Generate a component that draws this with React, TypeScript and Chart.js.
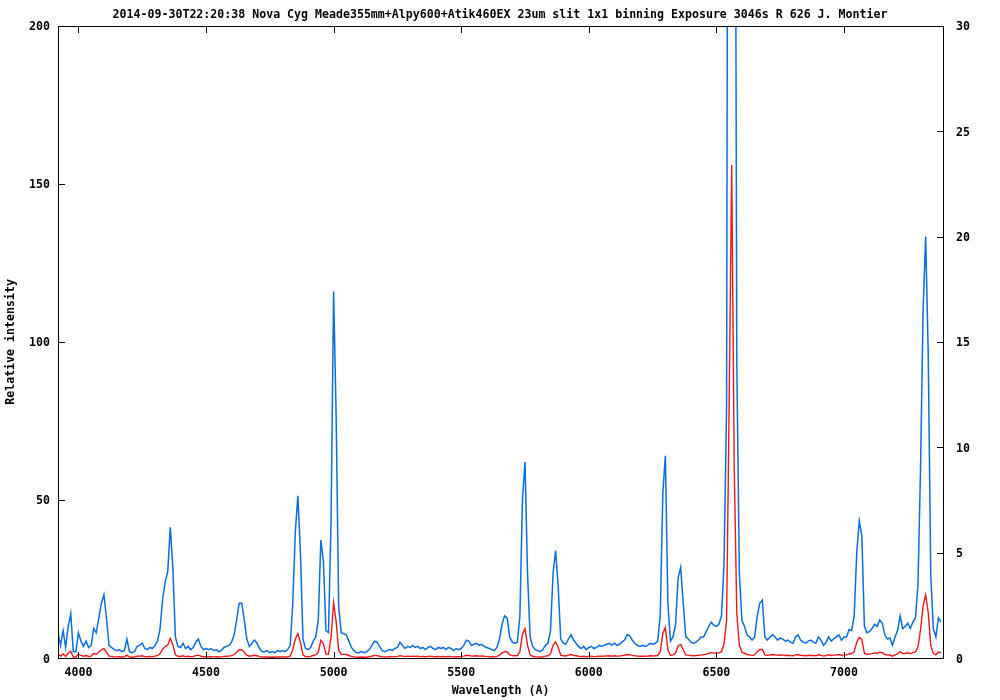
import React, { useEffect, useRef } from 'react';
import { Chart, registerables } from 'chart.js';

Chart.register(...registerables);

const TITLE =
  '2014-09-30T22:20:38 Nova Cyg Meade355mm+Alpy600+Atik460EX 23um slit 1x1 binning Exposure 3046s R 626 J. Montier';
const X_LABEL = 'Wavelength (A)';
const Y_LABEL = 'Relative intensity';

const X_TICKS = [4000, 4500, 5000, 5500, 6000, 6500, 7000];
const Y_TICKS = [0, 50, 100, 150, 200];
const Y2_TICKS = [0, 5, 10, 15, 20, 25, 30];

const X_MIN = 3920;
const X_MAX = 7388;
const Y_MAX = 200;
const Y2_MAX = 30;

// wavelength grid: first sample and spacing (Angstrom)
const WL_START = 3920;
const WL_STEP = 10;

// relative intensity, 3920–4410 A
const flux3920 = [
  1.2, 0.6, 1.3, 0.5, 1.5, 2.1, 0.3, 0.3, 1.2, 0.8,
  0.55, 0.8, 0.5, 0.6, 1.4, 1.2, 1.9, 2.6, 3.0, 1.9,
  0.6, 0.5, 0.4, 0.35, 0.4, 0.3, 0.35, 0.9, 0.3, 0.25,
  0.3, 0.55, 0.6, 0.7, 0.45, 0.4, 0.5, 0.45, 0.6, 0.8,
  1.4, 2.8, 3.6, 4.1, 6.2, 4.3, 1.0, 0.55, 0.5, 0.7,
];
// 4420–4910 A
const flux4420 = [
  0.45, 0.55, 0.4, 0.5, 0.75, 0.9, 0.55, 0.4, 0.45, 0.4,
  0.45, 0.35, 0.4, 0.3, 0.35, 0.5, 0.55, 0.6, 0.75, 1.1,
  1.8, 2.6, 2.6, 1.8, 0.9, 0.55, 0.7, 0.85, 0.7, 0.45,
  0.3, 0.3, 0.35, 0.25, 0.3, 0.25, 0.35, 0.3, 0.35, 0.3,
  0.4, 0.6, 2.6, 6.0, 7.7, 5.0, 0.9, 0.45, 0.4, 0.5,
];
// 4920–5410 A
const flux4920 = [
  0.8, 1.0, 1.8, 5.6, 4.6, 1.3, 1.2, 6.5, 17.4, 11.5,
  2.4, 1.2, 1.15, 1.1, 0.8, 0.5, 0.35, 0.25, 0.25, 0.3,
  0.25, 0.3, 0.4, 0.6, 0.8, 0.75, 0.55, 0.35, 0.3, 0.35,
  0.4, 0.35, 0.45, 0.5, 0.75, 0.6, 0.45, 0.55, 0.5, 0.6,
  0.5, 0.55, 0.45, 0.5, 0.4, 0.5, 0.55, 0.45, 0.4, 0.5,
];
// 5420–5910 A
const flux5420 = [
  0.45, 0.5, 0.4, 0.5, 0.45, 0.35, 0.45, 0.4, 0.45, 0.6,
  0.85, 0.8, 0.6, 0.65, 0.7, 0.6, 0.65, 0.55, 0.5, 0.45,
  0.4, 0.35, 0.5, 0.9, 1.6, 2.0, 1.9, 1.0, 0.75, 0.7,
  0.75, 2.0, 7.5, 9.3, 4.0, 1.0, 0.55, 0.4, 0.35, 0.3,
  0.4, 0.6, 0.7, 1.3, 4.0, 5.1, 3.4, 0.9, 0.7, 0.65,
];
// 5920–6410 A
const flux5920 = [
  0.9, 1.1, 0.85, 0.7, 0.55, 0.45, 0.55, 0.4, 0.5, 0.55,
  0.45, 0.5, 0.6, 0.55, 0.6, 0.65, 0.7, 0.6, 0.7, 0.6,
  0.65, 0.75, 0.85, 1.1, 1.05, 0.85, 0.7, 0.6, 0.55, 0.6,
  0.55, 0.6, 0.7, 0.65, 0.7, 0.8, 2.0, 7.8, 9.6, 2.6,
  0.8, 1.0, 1.6, 3.8, 4.3, 2.6, 1.0, 0.9, 0.75, 0.7,
];
// 6420–6910 A
const flux6420 = [
  0.75, 0.85, 1.0, 1.0, 1.25, 1.5, 1.7, 1.55, 1.5, 1.6,
  2.0, 4.5, 12, 80, 156, 60, 14, 4.0, 1.8, 1.5,
  1.1, 1.0, 0.85, 1.0, 2.0, 2.6, 2.75, 1.0, 0.85, 1.0,
  1.1, 1.0, 0.85, 0.95, 0.9, 0.8, 0.85, 0.75, 0.7, 1.0,
  1.1, 0.85, 0.75, 0.7, 0.8, 0.85, 0.75, 0.7, 1.0, 0.85,
];
// 6920–7380 A
const flux6920 = [
  0.6, 0.75, 1.0, 0.8, 0.9, 1.0, 1.1, 0.85, 1.0, 1.0,
  1.35, 1.3, 2.0, 5.0, 6.5, 5.8, 1.5, 1.2, 1.25, 1.4,
  1.6, 1.5, 1.8, 1.65, 1.1, 0.9, 0.95, 0.6, 1.0, 1.3,
  2.0, 1.4, 1.5, 1.65, 1.4, 1.7, 1.9, 3.5, 9.0, 16.5,
  20.0, 14.5, 4.0, 1.4, 1.0, 1.9, 1.7,
];

const BLUE = '#0a6ee0';
const RED = '#f01818';
const FONT_FAMILY = "'DejaVu Sans Mono', 'Liberation Mono', monospace";

const framePlugin = {
  id: 'gnuFrame',
  afterDatasetsDraw(chart: any) {
    const { ctx, chartArea: a, scales } = chart;
    const L = Math.round(a.left);
    const R = Math.round(a.right);
    const T = Math.round(a.top);
    const B = Math.round(a.bottom);
    const len = 6;
    ctx.save();
    ctx.fillStyle = '#000';
    ctx.fillRect(L, T, R - L + 1, 1);
    ctx.fillRect(L, B, R - L + 1, 1);
    ctx.fillRect(L, T, 1, B - T + 1);
    ctx.fillRect(R, T, 1, B - T + 1);
    scales.x.ticks.forEach((t: any) => {
      const px = Math.round(scales.x.getPixelForValue(t.value));
      ctx.fillRect(px, B - len, 1, len);
      ctx.fillRect(px, T + 1, 1, len);
    });
    scales.y.ticks.forEach((t: any) => {
      const py = Math.round(scales.y.getPixelForValue(t.value));
      ctx.fillRect(L + 1, py, len, 1);
    });
    scales.y2.ticks.forEach((t: any) => {
      const py = Math.round(scales.y2.getPixelForValue(t.value));
      ctx.fillRect(R - len, py, len, 1);
    });
    ctx.restore();
  },
};

export default function App() {
  const canvasRef = useRef<HTMLCanvasElement | null>(null);

  useEffect(() => {
    document.body.style.margin = '0';
    const canvas = canvasRef.current;
    if (!canvas) return;

    const fluxes = [
      ...flux3920,
      ...flux4420,
      ...flux4920,
      ...flux5420,
      ...flux5920,
      ...flux6420,
      ...flux6920,
    ];
    const points = fluxes.map((v, i) => ({ x: WL_START + i * WL_STEP, y: v }));

    const font = { family: FONT_FAMILY, size: 11.6, weight: 'bold' as const, lineHeight: 1.2 };
    const fmt = (v: any) => String(v);

    const chart = new Chart(canvas, {
      type: 'line',
      data: {
        datasets: [
          {
            label: 'scaled',
            data: points,
            yAxisID: 'y2',
            borderColor: BLUE,
            borderWidth: 1.5,
            pointRadius: 0,
            tension: 0,
            fill: false,
          },
          {
            label: 'spectrum',
            data: points,
            yAxisID: 'y',
            borderColor: RED,
            borderWidth: 1.4,
            pointRadius: 0,
            tension: 0,
            fill: false,
          },
        ],
      },
      options: {
        animation: false,
        responsive: false,
        devicePixelRatio: 1,
        parsing: false as any,
        normalized: true,
        layout: { padding: 0 },
        plugins: {
          legend: { display: false },
          tooltip: { enabled: false },
          title: {
            display: true,
            text: TITLE,
            color: '#000',
            font,
            padding: { top: 8, bottom: 4 },
          },
        },
        scales: {
          x: {
            type: 'linear',
            position: 'bottom',
            min: X_MIN,
            max: X_MAX,
            grid: { display: false, drawTicks: false, tickLength: 0 },
            border: { display: false },
            afterBuildTicks: (s: any) => {
              s.ticks = X_TICKS.map((v) => ({ value: v }));
            },
            afterFit: (s: any) => {
              s.height = 42;
            },
            ticks: {
              color: '#000',
              font,
              padding: 8,
              autoSkip: false,
              maxRotation: 0,
              callback: fmt,
            },
            title: {
              display: true,
              text: X_LABEL,
              color: '#000',
              font,
              padding: { top: 0, bottom: 2 },
            },
          },
          y: {
            type: 'linear',
            position: 'left',
            min: 0,
            max: Y_MAX,
            grid: { display: false, drawTicks: false, tickLength: 0 },
            border: { display: false },
            afterBuildTicks: (s: any) => {
              s.ticks = Y_TICKS.map((v) => ({ value: v }));
            },
            afterFit: (s: any) => {
              s.width = 58;
            },
            ticks: { color: '#000', font, padding: 8, labelOffset: 1.5, callback: fmt },
            title: {
              display: true,
              text: Y_LABEL,
              color: '#000',
              font,
              padding: { top: 4, bottom: 0 },
            },
          },
          y2: {
            type: 'linear',
            position: 'right',
            min: 0,
            max: Y2_MAX,
            grid: { display: false, drawTicks: false, tickLength: 0 },
            border: { display: false },
            afterBuildTicks: (s: any) => {
              s.ticks = Y2_TICKS.map((v) => ({ value: v }));
            },
            afterFit: (s: any) => {
              s.width = 57;
            },
            ticks: { color: '#000', font, padding: 13, labelOffset: 1.5, callback: fmt },
          },
        },
      },
      plugins: [framePlugin],
    });

    return () => {
      chart.destroy();
    };
  }, []);

  return (
    <div style={{ width: 1000, height: 700, position: 'relative' }}>
      <canvas ref={canvasRef} width={1000} height={700} style={{ display: 'block' }} />
    </div>
  );
}
